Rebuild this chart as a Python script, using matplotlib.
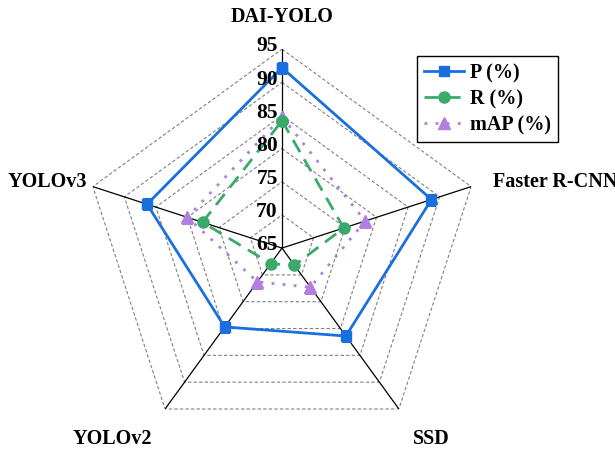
import numpy as np
import matplotlib
matplotlib.use('Agg')
import matplotlib.pyplot as plt

# data
models = ['DAI-YOLO', 'Faster R-CNN', 'SSD', 'YOLOv2', 'YOLOv3']
p_vals = [92.2, 88.7, 81.4, 79.7, 86.4]
r_vals = [84.2, 74.8, 68.2, 67.9, 77.6]
map_vals = [84.8, 78.2, 72.3, 71.3, 80.0]
ticks = [65, 70, 75, 80, 85, 90, 95]

plt.rcParams['font.family'] = ['Liberation Serif', 'DejaVu Serif']
plt.rcParams['font.weight'] = 'bold'

fig = plt.figure(figsize=(6.15, 4.49), dpi=100)
ax = fig.add_axes([0.135, 0.0045, 0.647, 0.886], projection='polar')
ax.set_theta_offset(np.pi / 2)
ax.set_theta_direction(-1)
ax.set_ylim(65, 95)
ax.grid(False)
ax.spines['polar'].set_visible(False)
ax.set_xticks([])
ax.set_yticks([])
ax.patch.set_alpha(0)

angles = np.linspace(0, 2 * np.pi, len(models), endpoint=False)
closed = np.append(angles, angles[0])

# pentagon grid
for t in ticks[1:]:
    ax.plot(closed, [t] * len(closed), color='#808080', lw=0.8, ls=(0, (3, 2)), zorder=1)
for a in angles:
    ax.plot([a, a], [65, 95], color='black', lw=0.9, zorder=2)

def close(v):
    return v + v[:1]

ax.plot(closed, close(p_vals), color='#1a6fdf', lw=2, ls='-', marker='s', ms=7, label='P (%)', zorder=5)
ax.plot(closed, close(r_vals), color='#3aaa6a', lw=2, ls=(0, (5, 3)), marker='o', ms=8, label='R (%)', zorder=4)
ax.plot(closed, close(map_vals), color='#b27fe0', lw=2, ls=(0, (1, 3)), marker='^', ms=8, label='mAP (%)', zorder=3)

# radial tick labels
for t in ticks:
    ax.annotate(str(t), xy=(0, t), xytext=(-3, 2), textcoords='offset points',
                ha='right', va='center', fontsize=15.5, fontweight='bold', zorder=6)

# category labels
lab_pos = [(0, 99.8, 'center'), (72.6, 98.3, 'left'), (142.0, 101.6, 'center'),
           (221.6, 103.5, 'center'), (288.7, 96.1, 'right')]
for name, (deg, rad, ha) in zip(models, lab_pos):
    ax.text(np.deg2rad(deg), rad, name, ha=ha, va='center', fontsize=14.5,
            fontweight='bold', clip_on=False)

leg = ax.legend(loc='upper left', bbox_to_anchor=(0.678, 0.875), bbox_transform=fig.transFigure,
                borderaxespad=0, fancybox=False, edgecolor='black', framealpha=1,
                handlelength=2.0, handletextpad=0.3, labelspacing=0.3, borderpad=0.35,
                prop={'size': 14.5, 'weight': 'bold'})
leg.get_frame().set_linewidth(1.0)

fig.savefig('out.png', dpi=100)
